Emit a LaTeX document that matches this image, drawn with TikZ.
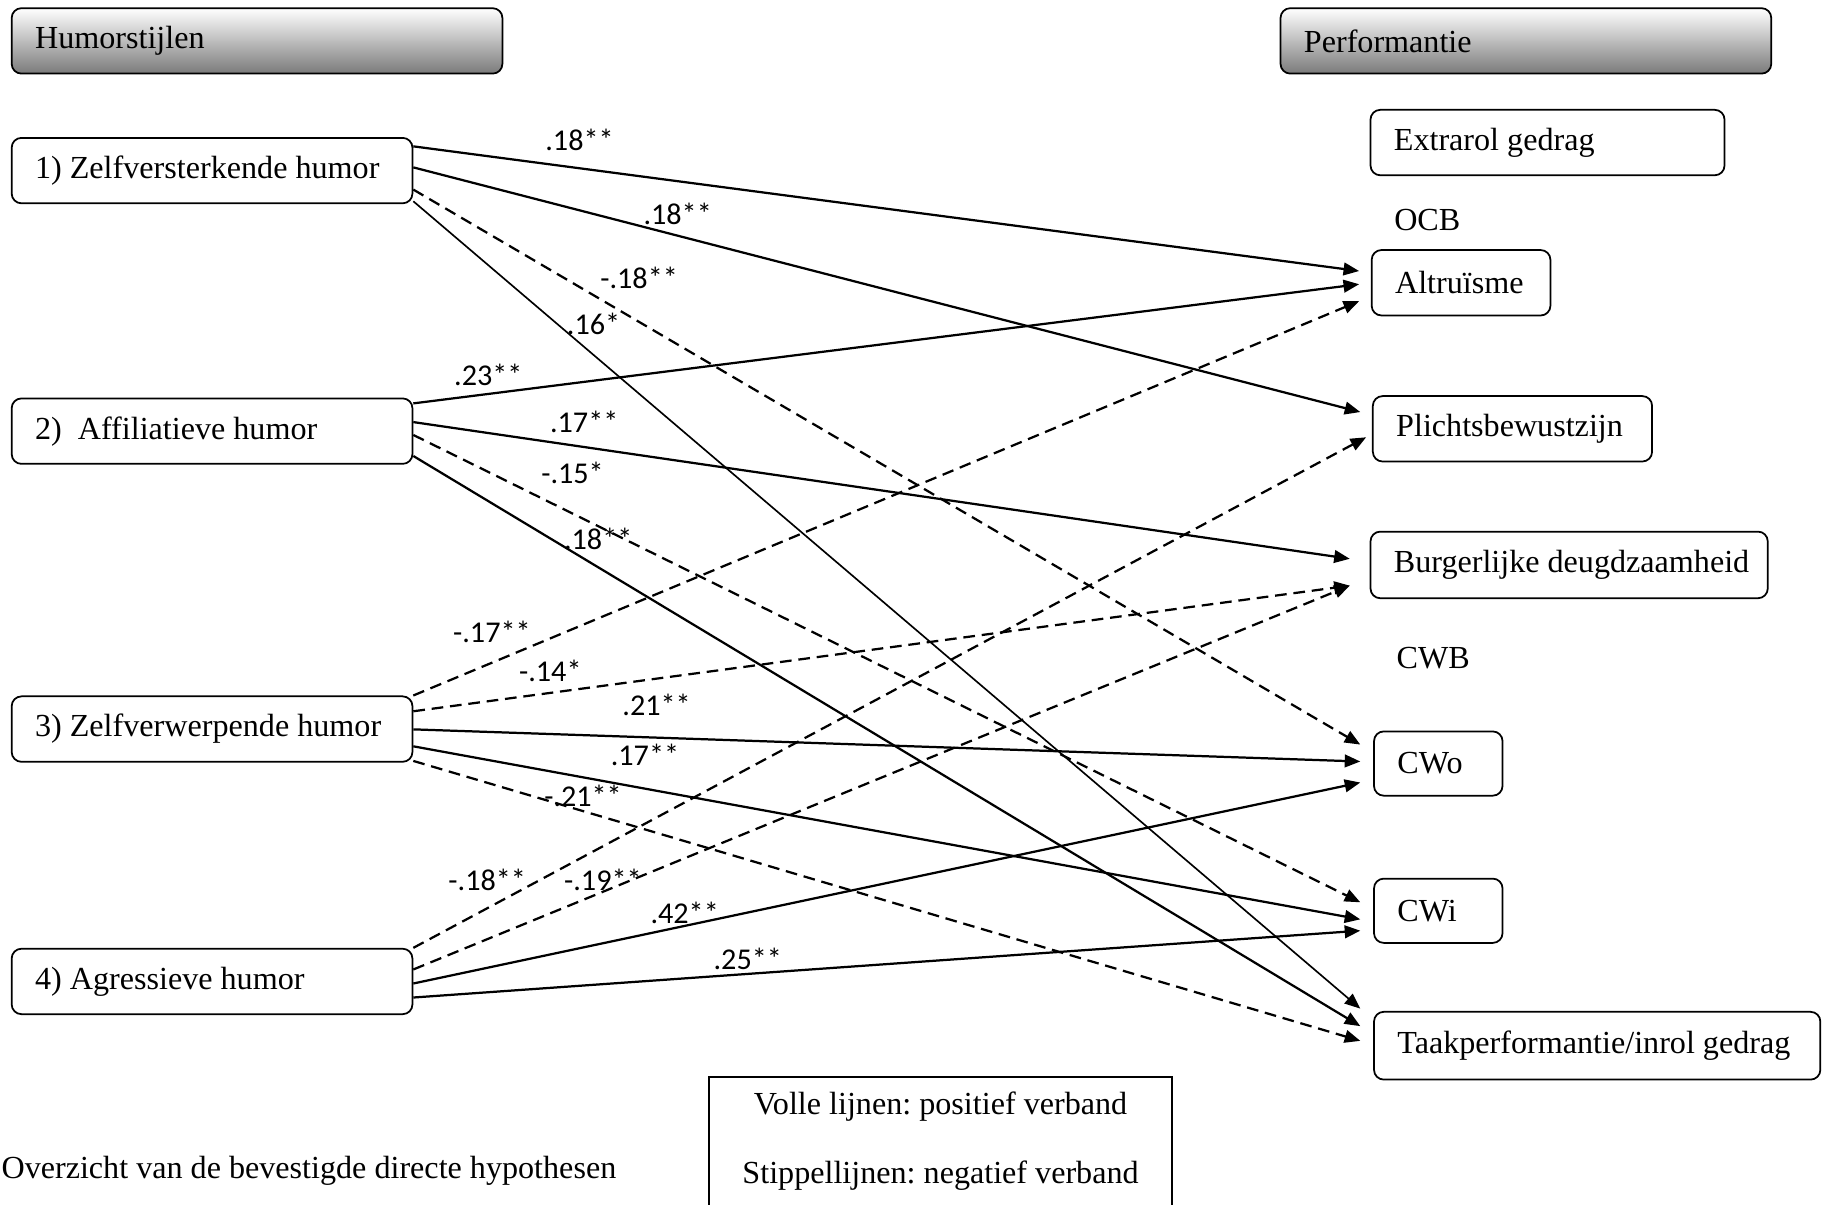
\documentclass[tikz,border=0pt]{standalone}
\usepackage{fontspec}
\setmainfont{Liberation Serif}
\newfontfamily\lblfont{Carlito}
\usetikzlibrary{arrows.meta,calc}
\frenchspacing
\begin{document}
\begin{tikzpicture}[x=0.6pt,y=-0.6pt,
  box/.style={draw, line width=0.9pt, rounded corners=5pt, inner xsep=12pt, inner ysep=0pt, font=\fontsize{16.5}{18}\selectfont},
  hdr/.style={box, top color=white, middle color=black!8, bottom color=black!52},
  txt/.style={font=\fontsize{16.5}{18}\selectfont, inner sep=0pt},
  lbl/.style={font=\lblfont\fontsize{15.5}{17}\selectfont, inner sep=0pt},
  posline/.style={line width=1.15pt, -{Triangle[length=8pt,width=6.5pt]}},
  negline/.style={posline, dash pattern=on 6pt off 3.5pt}]
\useasboundingbox (0,0) rectangle (1568,1031);

% headers
\node[hdr, minimum height=33.6pt] (hL) at (220,35) {\makebox[228pt][l]{\raisebox{-1pt}{Humorstijlen}}};
\node[hdr, minimum height=33.6pt] (hR) at (1306,35) {\makebox[228pt][l]{\raisebox{-1pt}{Performantie}}};

% left boxes
\node[box, minimum height=33.6pt] (b1) at (181.5,146) {\makebox[181.8pt][l]{1) Zelfversterkende humor}};
\node[box, minimum height=33.6pt] (b2) at (181.5,369) {\makebox[181.8pt][l]{2)~~Affiliatieve humor}};
\node[box, minimum height=33.6pt] (b3) at (181.5,624) {\makebox[181.8pt][l]{3) Zelfverwerpende humor}};
\node[box, minimum height=33.6pt] (b4) at (181.5,840) {\makebox[181.8pt][l]{4) Agressieve humor}};

% right boxes
\node[box, minimum height=33.6pt] (extra) at (1324.5,122) {\makebox[157.8pt][l]{Extrarol gedrag}};
\node[txt, anchor=west] (ocb) at (1193,188) {OCB};
\node[box, minimum height=33.6pt] (alt) at (1250.5,242) {\makebox[67.8pt][l]{Altruïsme}};
\node[box, minimum height=33.6pt] (pli) at (1294.5,367) {\makebox[119.4pt][l]{Plichtsbewustzijn}};
\node[box, minimum height=34.2pt] (bur) at (1343,483.5) {\makebox[180pt][l]{Burgerlijke deugdzaamheid}};
\node[txt, anchor=west] (cwb) at (1195,563) {CWB};
\node[box, minimum height=33pt] (cwo) at (1231,653.5) {\makebox[42pt][l]{CWo}};
\node[box, minimum height=33pt] (cwi) at (1231,779.5) {\makebox[42pt][l]{CWi}};
\node[box, minimum height=34.8pt] (taak) at (1367,895) {\makebox[205.2pt][l]{Taakperformantie/inrol gedrag}};

% connectors from 1
\draw[posline] ($(b1.north east)+(0,8)$) -- ($(alt.north west)+(-10,18.7)$) node[lbl] at (496,120) {.18**};
\draw[posline] ($(b1.north east)+(0,26)$) -- ($(pli.north west)+(-10,14.4)$) node[lbl] at (580,183) {.18**};
\draw[negline] ($(b1.north east)+(0,45)$) -- ($(cwo.north west)+(-11,12)$) node[lbl] at (547,238) {-.18**};
\draw[posline, line width=0.85pt] ($(b1.north east)+(0,55)$) -- ($(taak.north west)+(-11,-2)$) node[lbl] at (508,277) {.16*};
% connectors from 2
\draw[posline] ($(b2.north east)+(0,5)$) -- ($(alt.north west)+(-10,30)$) node[lbl] at (418,321) {.23**};
\draw[posline] ($(b2.north east)+(0,21)$) -- ($(bur.north west)+(-17,24)$) node[lbl] at (500,361) {.17**};
\draw[negline] ($(b2.north east)+(0,32)$) -- ($(cwi.north west)+(-11,21)$) node[lbl] at (490,405) {-.15*};
\draw[posline] ($(b2.north east)+(0,50)$) -- ($(taak.north west)+(-11,13)$) node[lbl] at (512,461) {.18**};
% connectors from 3
\draw[negline] ($(b3.north east)+(0,0)$) -- ($(alt.north west)+(-10,44.5)$) node[lbl] at (421,541) {-.17**};
\draw[negline] ($(b3.north east)+(0,13.5)$) -- ($(bur.north west)+(-17,47)$) node[lbl] at (471,574) {-.14*};
\draw[posline] ($(b3.north east)+(0,29)$) -- ($(cwo.north west)+(-11,26.5)$) node[lbl] at (562,603) {.21**};
\draw[posline] ($(b3.north east)+(0,43.5)$) -- ($(cwi.north west)+(-11,35.6)$) node[lbl] at (552,646) {.17**};
\draw[negline] ($(b3.north east)+(0,56)$) -- ($(taak.north west)+(-11,25.6)$) node[lbl] at (499,681) {-.21**};
% connectors from 4
\draw[negline] ($(b4.north east)+(0,0)$) -- ($(pli.north west)+(-5,36)$) node[lbl] at (417,753) {-.18**};
\draw[negline] ($(b4.north east)+(0,18.5)$) -- ($(bur.north west)+(-17,47)$) node[lbl] at (516,753) {-.19**};
\draw[posline] ($(b4.north east)+(0,30.5)$) -- ($(cwo.north west)+(-11,44.5)$) node[lbl] at (586,781) {.42**};
\draw[posline] ($(b4.north east)+(0,42.5)$) -- ($(cwi.north west)+(-11,45.3)$) node[lbl] at (640,821) {.25**};

% legend
\draw[line width=0.9pt] (607,1031) -- (607,922) -- (1003,922) -- (1003,1031);
\node[txt] (leg1) at (805,947) {Volle lijnen: positief verband};
\node[txt] (leg2) at (805,1006) {Stippellijnen: negatief verband};
\node[txt, anchor=west] (caption) at (1,1002) {Overzicht van de bevestigde directe hypothesen};
\end{tikzpicture}
\end{document}
